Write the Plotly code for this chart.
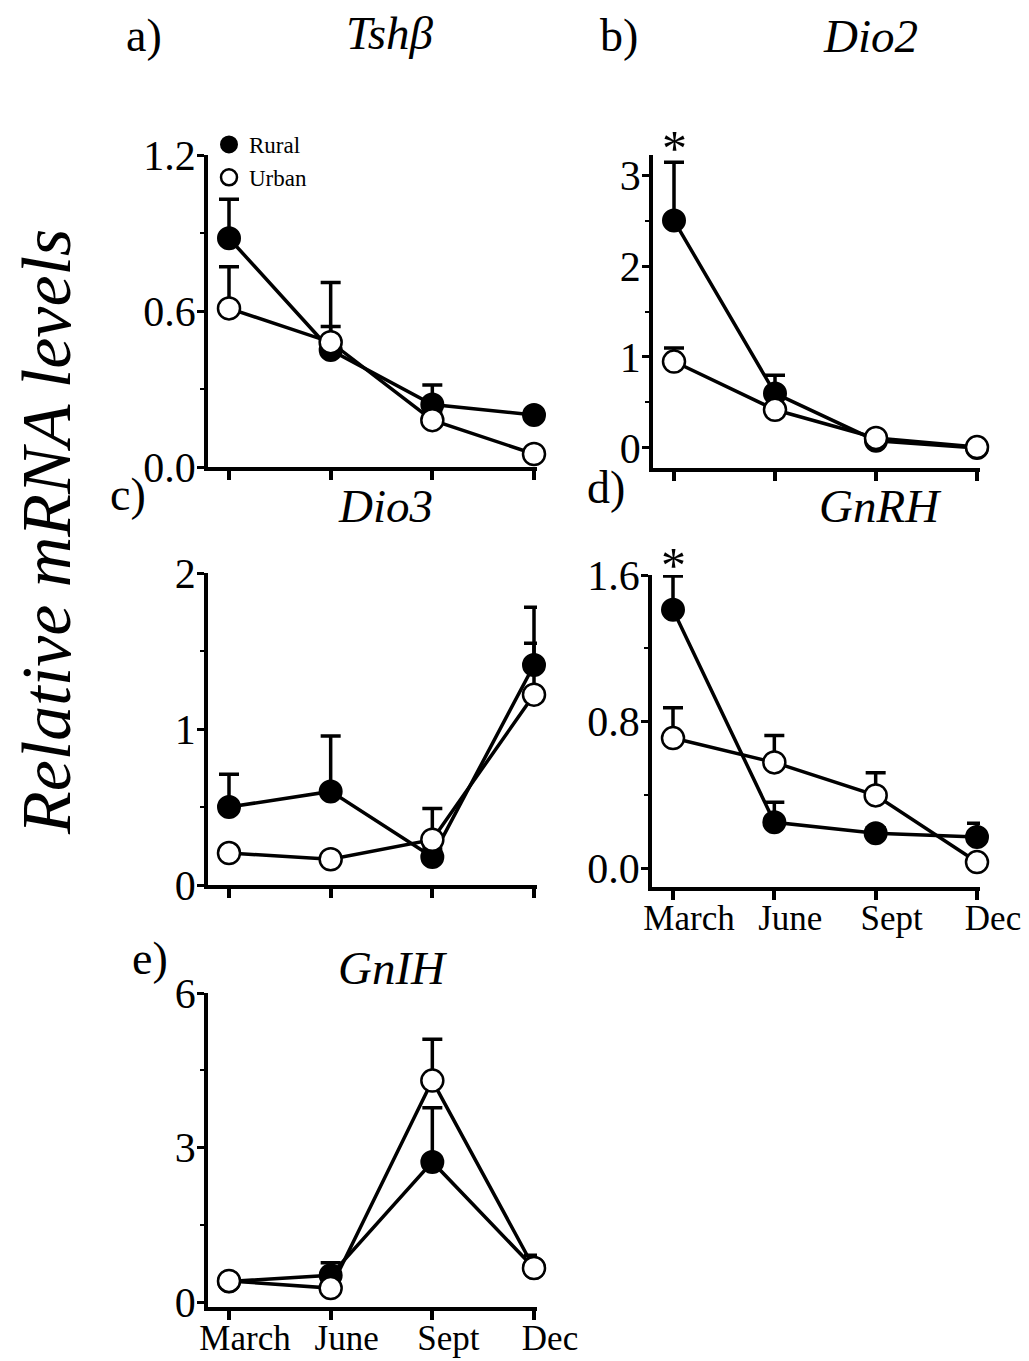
import plotly.graph_objects as go

W, H = 1029, 1361
FONT = "Liberation Serif"

months = ["March", "June", "Sept", "Dec"]

# Mean relative mRNA levels and upper SE per season
tsh_rural = [0.88, 0.45, 0.24, 0.20]
tsh_rural_se = [0.15, 0.09, 0.075, 0.02]
tsh_urban = [0.61, 0.48, 0.18, 0.05]
tsh_urban_se = [0.16, 0.23, 0.03, 0.02]

dio2_rural = [2.50, 0.60, 0.08, 0.00]
dio2_rural_se = [0.64, 0.20, 0.02, 0.01]
dio2_urban = [0.95, 0.42, 0.11, 0.01]
dio2_urban_se = [0.15, 0.05, 0.03, 0.01]

dio3_rural = [0.50, 0.60, 0.18, 1.41]
dio3_rural_se = [0.21, 0.355, 0.05, 0.37]
dio3_urban = [0.205, 0.165, 0.29, 1.22]
dio3_urban_se = [0.03, 0.03, 0.20, 0.33]

gnrh_rural = [1.41, 0.25, 0.19, 0.17]
gnrh_rural_se = [0.185, 0.11, 0.03, 0.075]
gnrh_urban = [0.71, 0.577, 0.397, 0.033]
gnrh_urban_se = [0.165, 0.147, 0.123, 0.02]

gnih_rural = [0.40, 0.52, 2.72, 0.66]
gnih_rural_se = [0.05, 0.24, 1.05, 0.25]
gnih_urban = [0.41, 0.27, 4.30, 0.66]
gnih_urban_se = [0.05, 0.05, 0.80, 0.10]


def px(x):
    return x / W


def py(y):
    return 1 - y / H


# panel: (rural, rural_se, urban, urban_se, x pixel span, y pixel span,
#         y range, major dtick, minor dtick, tick format, show x labels)
panels = [
    (tsh_rural, tsh_rural_se, tsh_urban, tsh_urban_se,
     (208, 537), (155, 467), (0, 1.2), 0.6, 0.3, ".1f", False),
    (dio2_rural, dio2_rural_se, dio2_urban, dio2_urban_se,
     (653, 980), (155, 468), (-0.22, 3.22), 1, 0.5, "d", False),
    (dio3_rural, dio3_rural_se, dio3_urban, dio3_urban_se,
     (208, 537), (573, 885), (0, 2), 1, 0.5, "d", False),
    (gnrh_rural, gnrh_rural_se, gnrh_urban, gnrh_urban_se,
     (652, 980), (575, 887), (-0.103, 1.6), 0.8, 0.4, ".1f", True),
    (gnih_rural, gnih_rural_se, gnih_urban, gnih_urban_se,
     (208, 537), (993, 1307), (-0.097, 6), 3, 1.5, "d", True),
]

fig = go.Figure()
layout = {}
annotations = []

for i, (r, rse, u, use, xs, ys, yr, dt, mdt, fmt, showx) in enumerate(panels):
    n = "" if i == 0 else str(i + 1)
    xa, ya = "x" + n, "y" + n
    # tick 0 and tick 3 sit ~21 px and ~3 px inside the axis ends
    span = xs[1] - xs[0]
    unit = (span - 24) / 3
    xr = (-21 / unit, 3 + 3 / unit)

    for name, vals, se, fill, lw in [("Rural", r, rse, "black", 2),
                                     ("Urban", u, use, "white", 2.5)]:
        fig.add_trace(go.Scatter(
            x=list(range(4)), y=vals, name=name, xaxis=xa, yaxis=ya,
            mode="lines+markers", showlegend=False,
            line=dict(color="black", width=3.5),
            marker=dict(size=22, color=fill, line=dict(color="black", width=lw)),
            error_y=dict(type="data", array=se, arrayminus=[0] * 4,
                         symmetric=False, color="black", thickness=3.5, width=10),
            cliponaxis=False,
        ))

    layout["xaxis" + n] = dict(
        domain=[px(xs[0]), px(xs[1])], range=list(xr), anchor=ya,
        tickmode="array", tickvals=list(range(4)),
        ticktext=months if showx else [""] * 4,
        showline=True, linecolor="black", linewidth=3.5,
        ticks="outside", ticklen=9, tickwidth=3.5, tickcolor="black",
        showgrid=False, zeroline=False, fixedrange=True, automargin=False,
        tickfont=dict(family=FONT, size=35, color="black"),
        ticklabelstandoff=-12, ticklabelshift=16,
    )
    layout["yaxis" + n] = dict(
        domain=[py(ys[1]), py(ys[0])], range=list(yr), anchor=xa,
        tick0=0, dtick=dt, tickformat=fmt,
        showline=True, linecolor="black", linewidth=3.5,
        ticks="outside", ticklen=7, tickwidth=3, tickcolor="black",
        minor=dict(dtick=mdt, tick0=0, ticks="outside", ticklen=4, tickwidth=2,
                   tickcolor="black"),
        showgrid=False, zeroline=False, fixedrange=True, automargin=False,
        tickfont=dict(family=FONT, size=42, color="black"), ticklabelstandoff=-7,
    )

# marker-only entries for the legend of panel a
for name, fill, lw in [("Rural", "black", 2), ("Urban", "white", 2.5)]:
    fig.add_trace(go.Scatter(
        x=[None], y=[None], name=name, mode="markers", showlegend=True,
        marker=dict(size=22, color=fill, line=dict(color="black", width=lw)),
    ))

# gene titles (italic) and panel letters
titles = [("<i>Tshβ</i>", 390, 33), ("<i>Dio2</i>", 870, 36), ("<i>Dio3</i>", 385, 506),
          ("<i>GnRH</i>", 880, 506), ("<i>GnIH</i>", 393, 968)]
for t, x, y in titles:
    annotations.append(dict(text=t, x=px(x), y=py(y), xref="paper", yref="paper",
                            showarrow=False, xanchor="center", yanchor="middle",
                            font=dict(family=FONT, size=47, color="black")))

letters = [("a)", 144, 35), ("b)", 619, 35), ("c)", 128, 494), ("d)", 606, 487),
           ("e)", 150, 958)]
for t, x, y in letters:
    annotations.append(dict(text=t, x=px(x), y=py(y), xref="paper", yref="paper",
                            showarrow=False, xanchor="center", yanchor="middle",
                            font=dict(family=FONT, size=46, color="black")))

# significance marks above the March rural means (Dio2, GnRH)
for xa_ref, ypix in [("x2", 148), ("x4", 565)]:
    annotations.append(dict(text="*", x=0, y=py(ypix), xref=xa_ref, yref="paper",
                            showarrow=False, xanchor="center", yanchor="middle",
                            font=dict(family=FONT, size=50, color="black")))

# shared y title
annotations.append(dict(text="<i>Relative mRNA levels</i>", x=px(46), y=py(532),
                        xref="paper", yref="paper", showarrow=False, textangle=-90,
                        xanchor="center", yanchor="middle",
                        font=dict(family=FONT, size=70, color="black")))

fig.update_layout(
    width=W, height=H,
    margin=dict(l=0, r=0, t=0, b=0, autoexpand=False),
    paper_bgcolor="white", plot_bgcolor="white",
    showlegend=True,
    legend=dict(x=px(209), y=py(123), xanchor="left", yanchor="top",
                font=dict(family=FONT, size=23, color="black"),
                bgcolor="rgba(0,0,0,0)", tracegroupgap=0, itemwidth=30,
                itemsizing="trace"),
    annotations=annotations,
    **layout,
)

fig.write_html("out.html")
